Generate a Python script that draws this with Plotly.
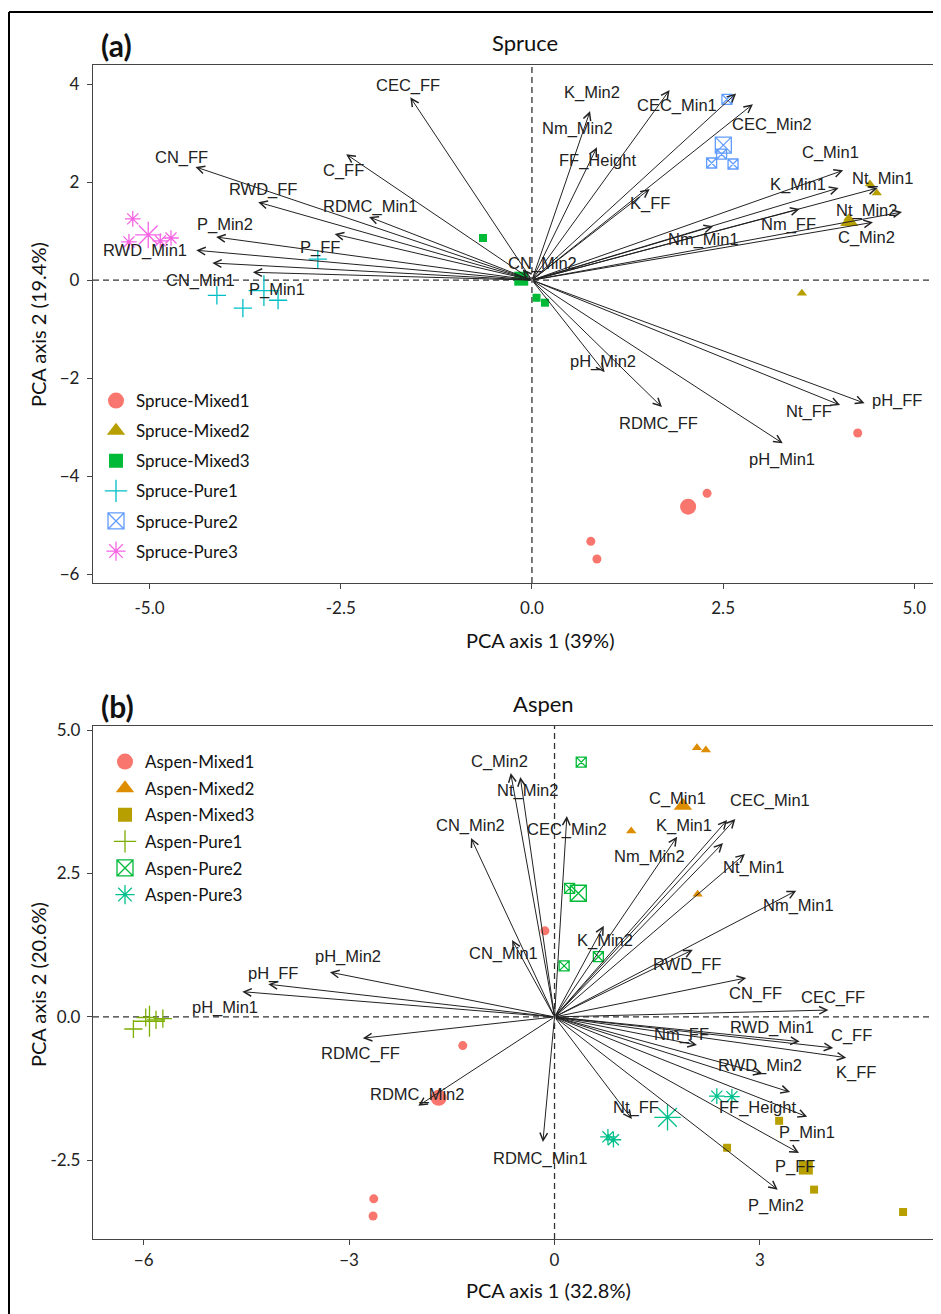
import numpy as np
import plotly.graph_objects as go

# page body has an 8px margin; the figure is sized so that it ends at the window edge
OFF = 8
W, H = 941 - OFF, 1314 - OFF

# ---------------- Spruce (a) ----------------
spruce_vars = ["CEC_FF", "CN_FF", "C_FF", "RWD_FF", "RDMC_Min1", "P_FF", "P_Min2", "RWD_Min1", "CN_Min1", "P_Min1",
               "K_Min2", "CEC_Min1", "CEC_Min2", "Nm_Min2", "FF_Height", "K_FF", "C_Min1", "K_Min1", "Nt_Min1", "Nt_Min2",
               "Nm_FF", "C_Min2", "Nm_Min1", "CN_Min2", "pH_Min2", "RDMC_FF", "pH_Min1", "Nt_FF", "pH_FF"]
spruce_tip_x = [-1.59, -4.40, -2.43, -3.58, -2.13, -2.58, -4.13, -4.39, -4.18, -3.65,
                1.80, 2.67, 2.89, 0.76, 0.85, 1.54, 4.07, 4.01, 4.52, 4.84,
                3.50, 4.46, 2.37, -0.12, 0.95, 1.70, 3.28, 4.03, 4.35]
spruce_tip_y = [3.73, 2.31, 2.57, 1.59, 1.29, 0.94, 0.88, 0.61, 0.35, 0.16,
                3.88, 3.81, 3.59, 3.45, 2.71, 1.86, 2.24, 1.88, 1.88, 1.39,
                1.45, 1.18, 1.10, 0.22, -1.88, -2.59, -3.33, -2.55, -2.51]
spruce_lab_x = [-1.62, -4.58, -2.47, -3.52, -2.12, -2.77, -4.01, -5.06, -4.34, -3.33,
                0.78, 1.90, 3.14, 0.60, 0.86, 1.54, 3.90, 3.48, 4.58, 4.38,
                3.35, 4.38, 2.24, 0.14, 0.93, 1.65, 3.27, 3.62, 4.77]
spruce_lab_y = [3.98, 2.51, 2.24, 1.84, 1.51, 0.67, 1.14, 0.61, 0.0, -0.20,
                3.82, 3.57, 3.18, 3.10, 2.45, 1.57, 2.61, 1.96, 2.08, 1.43,
                1.14, 0.88, 0.82, 0.33, -1.67, -2.92, -3.67, -2.69, -2.45]

spruce_groups = ["Spruce-Mixed1", "Spruce-Mixed2", "Spruce-Mixed3", "Spruce-Pure1", "Spruce-Pure2", "Spruce-Pure3"]
spruce_pts_x = {
    "Spruce-Mixed1": [4.26, 2.29, 0.77, 0.85],
    "Spruce-Mixed2": [4.42, 4.51, 4.14, 3.53],
    "Spruce-Mixed3": [-0.64, -0.15, 0.06, 0.17],
    "Spruce-Pure1": [-2.80, -4.12, -3.78, -3.32],
    "Spruce-Pure2": [2.55, 2.35, 2.63, 2.48],
    "Spruce-Pure3": [-5.22, -5.27, -4.72, -4.86],
}
spruce_pts_y = {
    "Spruce-Mixed1": [-3.12, -4.35, -5.33, -5.69],
    "Spruce-Mixed2": [1.96, 1.78, 1.27, -0.27],
    "Spruce-Mixed3": [0.86, 0.08, -0.36, -0.46],
    "Spruce-Pure1": [0.43, -0.31, -0.57, -0.41],
    "Spruce-Pure2": [3.69, 2.39, 2.37, 2.57],
    "Spruce-Pure3": [1.25, 0.78, 0.86, 0.80],
}
spruce_colors = ["#F8766D", "#B79F00", "#00BA38", "#00BFC4", "#619CFF", "#F564E3"]

# ---------------- Aspen (b) ----------------
aspen_vars = ["C_Min2", "Nt_Min2", "CN_Min2", "CN_Min1", "pH_Min2", "CEC_Min2", "C_Min1", "CEC_Min1", "K_Min1", "Nm_Min2",
              "Nt_Min1", "Nm_Min1", "K_Min2", "RWD_FF", "CN_FF", "CEC_FF", "Nm_FF", "RWD_Min1", "C_FF", "K_FF",
              "RWD_Min2", "FF_Height", "P_Min1", "P_FF", "P_Min2", "Nt_FF", "RDMC_Min1", "pH_FF", "pH_Min1", "RDMC_FF",
              "RDMC_Min2"]
aspen_tip_x = [-0.64, -0.50, -1.22, -0.62, -3.28, 0.18, 2.52, 2.64, 2.46, 1.79,
               2.78, 3.53, 0.72, 2.02, 2.80, 4.00, 2.08, 3.58, 4.07, 4.26,
               3.04, 3.44, 3.69, 3.57, 3.26, 1.13, -0.17, -4.18, -4.56, -2.80,
               -1.99]
aspen_tip_y = [4.25, 4.18, 3.12, 1.34, 0.78, 3.50, 3.43, 3.45, 3.03, 3.14,
               2.84, 2.20, 1.59, 1.17, 0.68, 0.12, -0.49, -0.43, -0.54, -0.71,
               -0.99, -1.31, -1.74, -2.37, -3.01, -1.78, -2.18, 0.57, 0.44, -0.37,
               -1.55]
aspen_lab_x = [-0.81, -0.39, -1.23, -0.75, -3.01, 0.18, 1.80, 3.15, 1.89, 1.38,
               2.90, 3.56, 0.74, 1.94, 2.94, 4.07, 1.86, 3.18, 4.34, 4.40,
               3.00, 2.96, 3.69, 3.51, 3.24, 1.19, -0.21, -4.11, -4.81, -2.84,
               -2.01]
aspen_lab_y = [4.46, 3.94, 3.33, 1.11, 1.05, 3.27, 3.80, 3.78, 3.33, 2.80,
               2.60, 1.95, 1.34, 0.91, 0.41, 0.33, -0.30, -0.19, -0.33, -0.96,
               -0.84, -1.57, -2.02, -2.61, -3.29, -1.57, -2.47, 0.75, 0.17, -0.64,
               -1.36]

aspen_groups = ["Aspen-Mixed1", "Aspen-Mixed2", "Aspen-Mixed3", "Aspen-Pure1", "Aspen-Pure2", "Aspen-Pure3"]
aspen_pts_x = {
    "Aspen-Mixed1": [-0.14, -1.34, -2.64, -2.65],
    "Aspen-Mixed2": [2.08, 2.21, 1.12, 2.09],
    "Aspen-Mixed3": [3.28, 2.52, 3.79, 5.09],
    "Aspen-Pure1": [-6.15, -5.97, -5.82, -5.72],
    "Aspen-Pure2": [0.39, 0.14, 0.64, 0.22],
    "Aspen-Pure3": [2.37, 2.59, 0.78, 0.86],
}
aspen_pts_y = {
    "Aspen-Mixed1": [1.50, -0.50, -3.17, -3.47],
    "Aspen-Mixed2": [4.69, 4.65, 3.24, 2.14],
    "Aspen-Mixed3": [-1.81, -2.28, -3.01, -3.40],
    "Aspen-Pure1": [-0.21, -0.01, -0.05, -0.03],
    "Aspen-Pure2": [4.44, 0.89, 1.05, 2.24],
    "Aspen-Pure3": [-1.38, -1.39, -2.09, -2.14],
}
aspen_colors = ["#F8766D", "#DE8C00", "#B79F00", "#7CAE00", "#00BA38", "#00C08B"]

symbols = ["circle", "triangle-up", "square", "cross-thin-open", "square-x-open", "asterisk-open"]
small_sizes = [9, 9, 8, 13, 10, 13]
big_sizes = [16, 16, 14, 22, 16, 22]


# ---------------- layout geometry (pixels of the photographed window) ----------------
def px_x(p):
    return (p - OFF) / W


def px_y(p):
    return 1 - (p - OFF) / H


fig = go.Figure()

panels = [
    dict(xa="x", ya="y", groups=spruce_groups, px=spruce_pts_x, py=spruce_pts_y, colors=spruce_colors,
         vars=spruce_vars, tx=spruce_tip_x, ty=spruce_tip_y, lx=spruce_lab_x, ly=spruce_lab_y, legend="legend"),
    dict(xa="x2", ya="y2", groups=aspen_groups, px=aspen_pts_x, py=aspen_pts_y, colors=aspen_colors,
         vars=aspen_vars, tx=aspen_tip_x, ty=aspen_tip_y, lx=aspen_lab_x, ly=aspen_lab_y, legend="legend2"),
]

annotations = []
shapes = []

for P in panels:
    for i, g in enumerate(P["groups"]):
        c = P["colors"][i]
        xs, ys = P["px"][g], P["py"][g]
        lw = 1.3 if "open" in symbols[i] else 0
        fig.add_trace(go.Scatter(
            x=xs, y=ys, mode="markers", xaxis=P["xa"], yaxis=P["ya"], showlegend=False,
            legendgroup=g,
            marker=dict(symbol=symbols[i], size=small_sizes[i], color=c, line=dict(width=lw, color=c))))
        fig.add_trace(go.Scatter(
            x=[float(np.mean(xs))], y=[float(np.mean(ys))], mode="markers", xaxis=P["xa"], yaxis=P["ya"],
            name=g, legendgroup=g, legend=P["legend"], showlegend=True,
            marker=dict(symbol=symbols[i], size=big_sizes[i], color=c, line=dict(width=lw, color=c))))
    for v, tx, ty in zip(P["vars"], P["tx"], P["ty"]):
        annotations.append(dict(x=tx, y=ty, ax=0, ay=0, xref=P["xa"], yref=P["ya"], axref=P["xa"], ayref=P["ya"],
                                text="", showarrow=True, arrowhead=5, arrowsize=1.5, arrowwidth=1,
                                arrowcolor="#222222", standoff=0))
    for v, lx, ly in zip(P["vars"], P["lx"], P["ly"]):
        annotations.append(dict(x=lx, y=ly, xref=P["xa"], yref=P["ya"], text=v, showarrow=False,
                                xanchor="center", yanchor="middle",
                                font=dict(family="Liberation Sans", size=16.5, color="#222222")))
    shapes.append(dict(type="line", xref=P["xa"] + " domain", x0=0, x1=1, yref=P["ya"], y0=0, y1=0,
                       line=dict(color="#333333", width=1.3, dash="6px,4px"), layer="below"))
    shapes.append(dict(type="line", xref=P["xa"], x0=0, x1=0, yref=P["ya"] + " domain", y0=0, y1=1,
                       line=dict(color="#333333", width=1.3, dash="6px,4px"), layer="below"))

# text annotations (titles)
txt_font = "Lato"


def label(px, py, text, size, angle=0):
    return dict(x=px_x(px), y=px_y(py), xref="paper", yref="paper", text=text, showarrow=False,
                xanchor="center", yanchor="middle", textangle=angle,
                font=dict(family=txt_font, size=size, color="#111"))


annotations += [
    label(525, 43, "Spruce", 22),
    label(116, 45, "<b>(a)</b>", 30),
    label(540, 640, "PCA axis 1 (39%)", 20),
    label(38, 325, "PCA axis 2 (19.4%)", 20, -90),
    label(543, 703, "Aspen", 22),
    label(117, 706, "<b>(b)</b>", 30),
    label(548, 1290, "PCA axis 1 (32.8%)", 20),
    label(38, 985, "PCA axis 2 (20.6%)", 20, -90),
]

# outer frame
shapes += [
    dict(type="line", xref="paper", yref="paper", x0=px_x(9), x1=px_x(9), y0=px_y(12), y1=px_y(1330),
         line=dict(color="black", width=2)),
    dict(type="line", xref="paper", yref="paper", x0=px_x(9), x1=px_x(960), y0=px_y(12), y1=px_y(12),
         line=dict(color="black", width=2)),
]

axis_common = dict(showgrid=False, zeroline=False, showline=True, mirror=True, linecolor="#444444", linewidth=1.3,
                   ticks="outside", ticklen=5, tickcolor="#444444",
                   tickfont=dict(family=txt_font, size=17, color="#222"), automargin=False)

fig.update_layout(
    width=W, height=H, margin=dict(l=0, r=0, t=0, b=0),
    paper_bgcolor="white", plot_bgcolor="white",
    xaxis=dict(domain=[px_x(93), px_x(938)], anchor="y", range=[-5.74, 5.31], ticklabelstandoff=4,
               tickvals=[-5, -2.5, 0, 2.5, 5], ticktext=["-5.0", "-2.5", "0.0", "2.5", "5.0"], **axis_common),
    yaxis=dict(domain=[px_y(583), px_y(65)], anchor="x", range=[-6.18, 4.39], ticklabelstandoff=4,
               tickvals=[-6, -4, -2, 0, 2, 4], **axis_common),
    xaxis2=dict(domain=[px_x(93), px_x(938)], anchor="y2", range=[-6.74, 5.60],
                tickvals=[-6, -3, 0, 3], **axis_common),
    yaxis2=dict(domain=[px_y(1239), px_y(726)], anchor="x2", range=[-3.87, 5.07], ticklabelstandoff=3,
                tickvals=[-2.5, 0, 2.5, 5], ticktext=["-2.5", "0.0", "2.5", "5.0"], **axis_common),
    legend=dict(x=px_x(96), y=px_y(383), xanchor="left", yanchor="top", bgcolor="rgba(0,0,0,0)",
                font=dict(family=txt_font, size=17, color="#111"), tracegroupgap=5, itemsizing="trace"),
    legend2=dict(x=px_x(105), y=px_y(744), xanchor="left", yanchor="top", bgcolor="rgba(0,0,0,0)",
                 font=dict(family=txt_font, size=17, color="#111"), tracegroupgap=1.5, itemsizing="trace"),
    annotations=annotations, shapes=shapes,
)

fig.write_html("out.html")
